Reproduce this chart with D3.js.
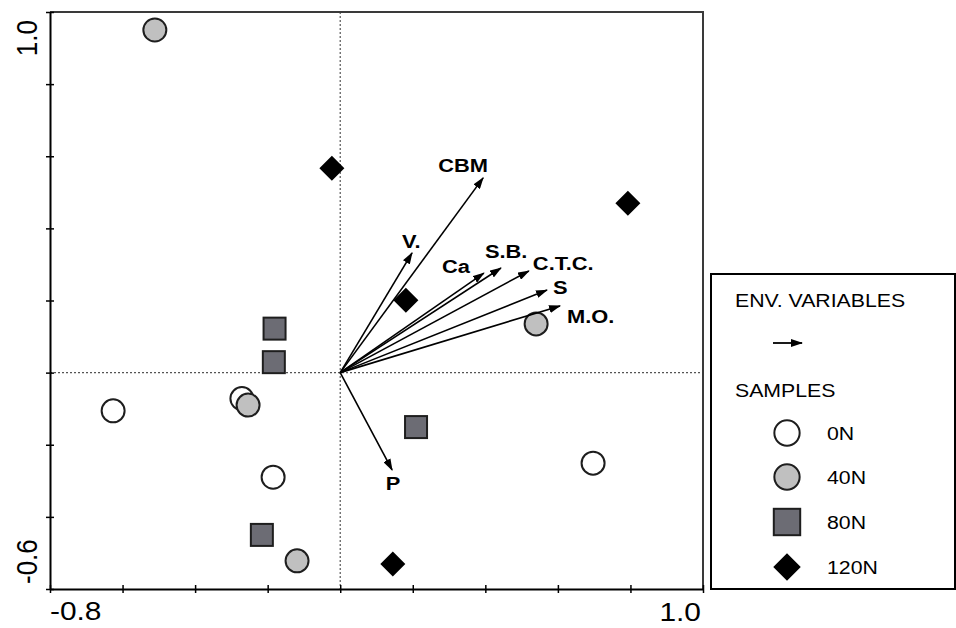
<!DOCTYPE html>
<html>
<head>
<meta charset="utf-8">
<script src="https://cdn.jsdelivr.net/npm/d3@7"></script>
<style>
  html, body { margin: 0; padding: 0; background: #fff; }
  svg { display: block; }
  text { font-family: "Liberation Sans", Arial, sans-serif; }
</style>
</head>
<body>
<svg id="chart" width="956" height="628"></svg>
<script>
// Ordination scores of the samples (axis 1, axis 2) and their N rate
const sampleX = [-0.511, -0.023, 0.793, 0.181, -0.181, -0.183, 0.540, -0.626, -0.271, -0.254, 0.209, 0.697, -0.185, -0.216, -0.119, 0.145];
const sampleY = [0.950, 0.567, 0.470, 0.201, 0.122, 0.029, 0.135, -0.106, -0.072, -0.090, -0.151, -0.251, -0.290, -0.450, -0.522, -0.531];
const sampleGroup = ["40N", "120N", "120N", "120N", "80N", "80N", "40N", "0N", "0N", "40N", "80N", "0N", "0N", "80N", "40N", "120N"];

// Environmental variable vectors
const envNames = ["CBM", "V.", "Ca", "S.B.", "C.T.C.", "S", "M.O.", "P"];
const envX = [0.394, 0.198, 0.396, 0.443, 0.520, 0.570, 0.606, 0.143];
const envY = [0.540, 0.332, 0.276, 0.290, 0.282, 0.229, 0.185, -0.270];

// Axis ticks and the end labels printed on each axis
const tickValues = [-0.8, -0.6, -0.4, -0.2, 0, 0.2, 0.4, 0.6, 0.8, 1.0];
const yTickValues = [-0.6, -0.4, -0.2, 0, 0.2, 0.4, 0.6, 0.8, 1.0];
const xEndLabels = ["-0.8", "1.0"];
const yEndLabels = ["-0.6", "1.0"];

const groups = ["0N", "40N", "80N", "120N"];

// ---- layout / style ----
const STRETCH = 1.15;   // horizontal widening applied to all text
const plot = { left: 50, right: 703, top: 12, bottom: 589 };
const style = {
  "0N":   { shape: "circle",  fill: "#ffffff" },
  "40N":  { shape: "circle",  fill: "#c0c0c0" },
  "80N":  { shape: "square",  fill: "#6c6c74" },
  "120N": { shape: "diamond", fill: "#000000" }
};
// label placement relative to each arrow tip (px)
const labelOffset = {
  "CBM":    { dx: -20, dy: -6, anchor: "middle" },
  "V.":     { dx: -10, dy: -5, anchor: "start" },
  "Ca":     { dx: -42, dy: 0, anchor: "start" },
  "S.B.":   { dx: -16, dy: -10, anchor: "start" },
  "C.T.C.": { dx: 4, dy: -1, anchor: "start" },
  "S":      { dx: 6, dy: 4, anchor: "start" },
  "M.O.":   { dx: 7, dy: 17, anchor: "start" },
  "P":      { dx: 1, dy: 20, anchor: "middle" }
};

const svg = d3.select("#chart");

const x = d3.scaleLinear().domain([-0.8, 1.0]).range([plot.left, plot.right]);
const y = d3.scaleLinear().domain([-0.6, 1.0]).range([plot.bottom, plot.top]);

const defs = svg.append("defs");
defs.append("marker")
  .attr("id", "head")
  .attr("viewBox", "0 0 12 8")
  .attr("refX", 11).attr("refY", 4)
  .attr("markerWidth", 12).attr("markerHeight", 8)
  .attr("markerUnits", "userSpaceOnUse")
  .attr("orient", "auto")
  .append("path").attr("d", "M0,0 L12,4 L0,8 Z").attr("fill", "#000");

// stretched text helper
function stretchedText(sel, px, py, str, opts) {
  const t = sel.append("text")
    .attr("transform", `translate(${px},${py}) scale(${STRETCH},1)` + (opts.rotate ? ` rotate(${opts.rotate})` : ""))
    .attr("text-anchor", opts.anchor || "start")
    .attr("font-size", opts.size)
    .attr("font-weight", opts.weight || "normal")
    .attr("fill", "#000")
    .text(str);
  return t;
}

// zero reference lines
svg.append("line")
  .attr("x1", plot.left).attr("x2", plot.right)
  .attr("y1", y(0)).attr("y2", y(0))
  .attr("stroke", "#555").attr("stroke-width", 1.2).attr("stroke-dasharray", "2,2");
svg.append("line")
  .attr("x1", x(0)).attr("x2", x(0))
  .attr("y1", plot.top).attr("y2", plot.bottom)
  .attr("stroke", "#555").attr("stroke-width", 1.2).attr("stroke-dasharray", "2,2");

// frame: top and right edges
svg.append("path")
  .attr("d", `M${plot.left},${plot.top} H${plot.right} V${plot.bottom}`)
  .attr("fill", "none").attr("stroke", "#3a3a3a").attr("stroke-width", 2);

// axes with crossing ticks
const xAxis = svg.append("g")
  .attr("transform", `translate(0,${plot.bottom})`)
  .call(d3.axisBottom(x).tickValues(tickValues).tickSize(0).tickSizeOuter(0).tickFormat(""));
xAxis.selectAll(".tick line").attr("y1", -4).attr("y2", 4).attr("stroke", "#000").attr("stroke-width", 1.5);
xAxis.select(".domain").attr("stroke", "#000").attr("stroke-width", 2);

const yAxis = svg.append("g")
  .attr("transform", `translate(${plot.left},0)`)
  .call(d3.axisLeft(y).tickValues(yTickValues).tickSize(0).tickSizeOuter(0).tickFormat(""));
yAxis.selectAll(".tick line").attr("x1", -4).attr("x2", 4).attr("stroke", "#000").attr("stroke-width", 1.5);
yAxis.select(".domain").attr("stroke", "#000").attr("stroke-width", 2);

// axis end labels
stretchedText(svg, plot.left, 620, xEndLabels[0], { size: 26, anchor: "start" });
stretchedText(svg, plot.right - 2, 621, xEndLabels[1], { size: 26, anchor: "end" });
stretchedText(svg, 37, plot.bottom - 5, yEndLabels[0], { size: 26, anchor: "start", rotate: -90 });
stretchedText(svg, 37, 20, yEndLabels[1], { size: 26, anchor: "end", rotate: -90 });

// symbol drawing
function drawSymbol(sel, group, cx, cy, scale) {
  const st = style[group];
  if (st.shape === "circle") {
    sel.append("circle").attr("cx", cx).attr("cy", cy).attr("r", 11.5 * scale)
      .attr("fill", st.fill).attr("stroke", "#1e1e1e").attr("stroke-width", 2);
  } else if (st.shape === "square") {
    const s = 22 * scale;
    sel.append("rect").attr("x", cx - s / 2).attr("y", cy - s / 2).attr("width", s).attr("height", s)
      .attr("fill", st.fill).attr("stroke", "#1e1e1e").attr("stroke-width", 2);
  } else {
    const h = 12.5 * scale;
    sel.append("path").attr("d", `M${cx},${cy - h} L${cx + h},${cy} L${cx},${cy + h} L${cx - h},${cy} Z`)
      .attr("fill", st.fill);
  }
}

// samples (white first so shaded circles sit on top)
const samples = sampleX.map((v, i) => ({ x: v, y: sampleY[i], g: sampleGroup[i] }));
const order = { "0N": 0, "40N": 1, "80N": 2, "120N": 3 };
const pts = svg.append("g");
samples.slice().sort((a, b) => order[a.g] - order[b.g])
  .forEach(d => drawSymbol(pts, d.g, x(d.x), y(d.y), 1));

// environmental vectors
const env = envNames.map((n, i) => ({ name: n, x: envX[i], y: envY[i] }));
const arrows = svg.append("g");
arrows.selectAll("line").data(env).join("line")
  .attr("x1", x(0)).attr("y1", y(0))
  .attr("x2", d => x(d.x)).attr("y2", d => y(d.y))
  .attr("stroke", "#000").attr("stroke-width", 1.6)
  .attr("marker-end", "url(#head)");
env.forEach(d => {
  const o = labelOffset[d.name];
  stretchedText(arrows, x(d.x) + o.dx, y(d.y) + o.dy, d.name, { size: 19, weight: "bold", anchor: o.anchor });
});

// legend
const lg = svg.append("g");
lg.append("rect").attr("x", 711).attr("y", 274).attr("width", 244).attr("height", 315)
  .attr("fill", "#fff").attr("stroke", "#000").attr("stroke-width", 2);
stretchedText(lg, 735, 307, "ENV. VARIABLES", { size: 18.5 });
lg.append("line").attr("x1", 773).attr("x2", 802).attr("y1", 343).attr("y2", 343)
  .attr("stroke", "#000").attr("stroke-width", 1.8).attr("marker-end", "url(#head)");
stretchedText(lg, 735, 397, "SAMPLES", { size: 18.5 });
const legendY = [433, 477, 522, 567];
groups.forEach((g, i) => {
  drawSymbol(lg, g, 787, legendY[i], g === "80N" ? 1.2 : 1.1);
  stretchedText(lg, 827, legendY[i] + 7, g, { size: 18.5 });
});
</script>
</body>
</html>
